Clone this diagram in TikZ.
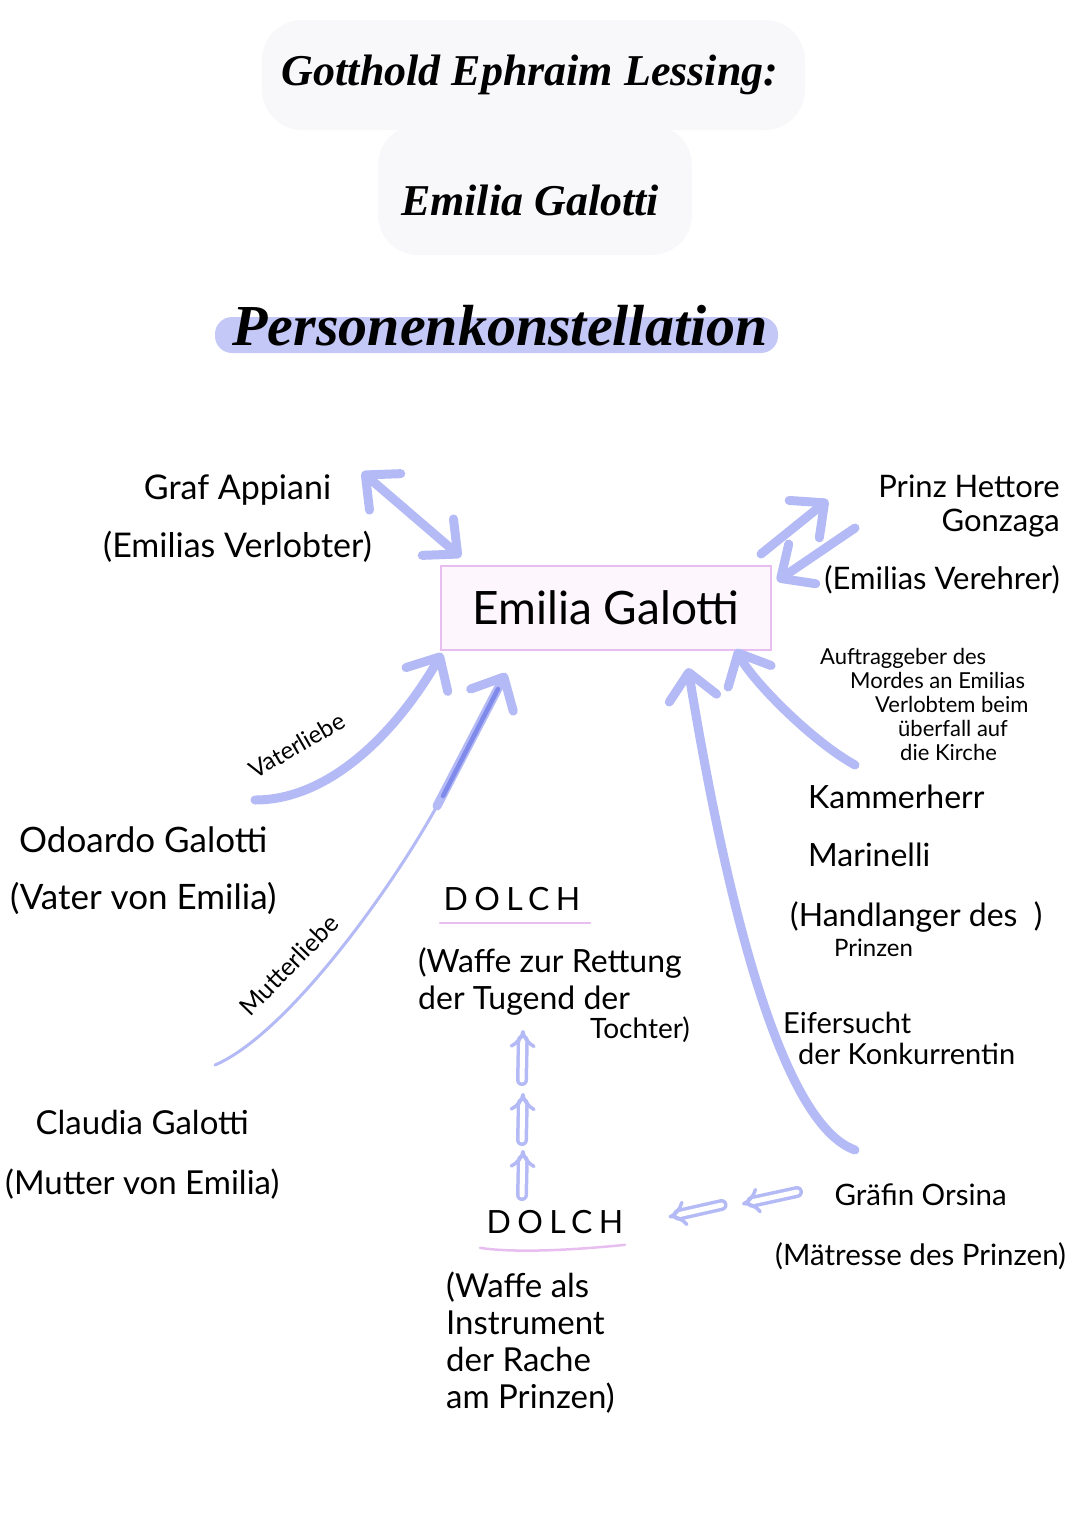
\documentclass[tikz,border=0pt]{standalone}
\usepackage{fontspec}
\setmainfont{Lato}
\newfontfamily\titelfont{Liberation Serif}
\usetikzlibrary{arrows.meta}

\definecolor{lila}{RGB}{180,186,245}
\definecolor{lilakern}{RGB}{128,138,235}
\definecolor{band}{RGB}{196,200,246}
\definecolor{rosa}{RGB}{232,190,240}
\definecolor{rosahell}{RGB}{253,246,253}
\definecolor{nebel}{RGB}{248,248,250}

\begin{document}
\begin{tikzpicture}[
    x=1pt, y=-1pt,
    >={Straight Barb[length=26pt,width=48pt,round]},
    pfeil/.style={draw=lila, line width=9pt, line cap=round, line join=round, ->},
    duenn/.style={draw=lila, line width=3pt, line cap=round},
    kern/.style={draw=lilakern, line width=4.5pt, line cap=round},
    doppel/.style={draw=lila, line width=3.5pt, double=white, double distance=5pt, line cap=round, -{Implies}},
    figur/.style={inner sep=0pt, align=center, font=\fontsize{34}{58}\selectfont},
    notiz/.style={inner sep=0pt, align=left, font=\fontsize{32}{37}\selectfont},
    dolch/.style={inner sep=0pt, font=\fontsize{32}{32}\selectfont\addfontfeature{LetterSpace=20}},
    strich/.style={draw=rosa, line width=2.5pt, line cap=round},
    titel/.style={inner sep=0pt, font=\titelfont\bfseries\itshape\fontsize{44}{50}\selectfont},
  ]
  \useasboundingbox (0,0) rectangle (1080,1527);

  % Titel
  \fill[nebel, rounded corners=40pt] (262,20) rectangle (805,130);
  \fill[nebel, rounded corners=40pt] (378,125) rectangle (692,255);
  \node[titel] (titel1) at (530,75) {Gotthold Ephraim Lessing:};
  \node[titel] (titel2) at (530,200) {Emilia Galotti};
  \fill[band, rounded corners=17pt] (215,317) rectangle (778,353);
  \node[titel, anchor=base, font=\titelfont\bfseries\itshape\fontsize{58}{58}\selectfont] (konst) at (500,345) {Personenkonstellation};

  % Personen
  \node[draw=rosa, fill=rosahell, line width=2pt, minimum width=330pt, minimum height=84pt,
    inner sep=0pt, font=\fontsize{46}{46}\selectfont] (emilia) at (606,608) {Emilia Galotti};
  \node[figur, anchor=north east] (appiani) at (372,474) {Graf Appiani\\(Emilias Verlobter)};
  \node[figur, align=right, anchor=north east, font=\fontsize{31}{34}\selectfont] (prinz) at (1060,475)
    {Prinz Hettore\\Gonzaga\\[24pt](Emilias Verehrer)};
  \node[notiz, anchor=north west, font=\fontsize{22}{24}\selectfont] (auftrag) at (820,648)
    {Auftraggeber des\\\hspace*{30pt}Mordes an Emilias\\\hspace*{55pt}Verlobtem beim\\\hspace*{78pt}überfall auf\\\hspace*{80pt}die Kirche};
  \node[notiz, anchor=north west, font=\fontsize{32}{58}\selectfont] (kammer) at (808,785) {Kammerherr\\Marinelli};
  \node[notiz, anchor=north west, font=\fontsize{32}{30}\selectfont] (handl) at (790,901)
    {(Handlanger des\ \ )\\\hspace*{44pt}{\fontsize{24}{24}\selectfont Prinzen}};
  \node[notiz, anchor=north west, font=\fontsize{29}{31}\selectfont] (eifer) at (783,1012)
    {Eifersucht\\\hspace*{15pt}der Konkurrentin};
  \node[figur, anchor=north west, font=\fontsize{29.5}{60}\selectfont] (orsina) at (775,1184)
    {Gräfin Orsina\\(Mätresse des Prinzen)};
  \node[figur, anchor=north west, font=\fontsize{35}{57}\selectfont] (odoardo) at (10,827)
    {Odoardo Galotti\\(Vater von Emilia)};
  \node[figur, anchor=north west, font=\fontsize{33}{60}\selectfont] (claudia) at (5,1110)
    {Claudia Galotti\\(Mutter von Emilia)};

  % Dolche
  \node[dolch, anchor=north] (dolchA) at (512,887) {DOLCH};
  \node[notiz, anchor=north west] (dolchAtext) at (418,947)
    {(Waffe zur Rettung\\der Tugend der\\[-8pt]\hspace*{172pt}{\fontsize{28}{28}\selectfont Tochter)}};
  \node[dolch, anchor=north] (dolchB) at (555,1210) {DOLCH};
  \node[notiz, anchor=north west, font=\fontsize{33}{37}\selectfont] (dolchBtext) at (446,1272)
    {(Waffe als\\Instrument\\der Rache\\am Prinzen)};
  \draw[strich] ([shift={(-72,12)}]dolchA.south) -- ([shift={(78,12)}]dolchA.south);
  \draw[strich] ([shift={(-75,14)}]dolchB.south) .. controls +(40,6) and +(-40,4) .. ([shift={(70,11)}]dolchB.south);

  % Beziehungen
  \draw[pfeil, <->] ([shift={(-10,-2)}]appiani.north east) -- ([shift={(21,-8)}]emilia.north west);
  \draw[pfeil] ([shift={(-11,-11)}]emilia.north east) -- ([shift={(-232,25)}]prinz.north east);
  \draw[pfeil] ([shift={(-205,53)}]prinz.north east) -- ([shift={(5,16)}]emilia.north east);
  \draw[pfeil] ([shift={(47,-20)}]kammer.north west) .. controls +(-45,-25) and +(15,30) .. ([shift={(-36,-2)}]emilia.south east);
  \draw[pfeil] ([shift={(80,-34)}]orsina.north west) .. controls +(-85,-30) and +(27,163) .. ([shift={(82,17)}]emilia.south);
  \draw[pfeil] ([shift={(245,-27)}]odoardo.north west) .. controls +(80,0) and +(-40,70) .. ([shift={(2,2)}]emilia.south west);
  \node[font=\fontsize{24}{24}\selectfont, rotate=30, inner sep=0pt] (vlabel) at (297,745) {Vaterliebe};

  \coordinate (knick) at ([shift={(-169,155)}]emilia.south);
  \draw[duenn] ([shift={(210,-45)}]claudia.north west) .. controls +(70,-30) and +(-50,90) .. (knick);
  \draw[pfeil] (knick) -- ([shift={(-100,22)}]emilia.south);
  \draw[kern] ([shift={(6,-10)}]knick) -- ([shift={(-108,38)}]emilia.south);
  \node[font=\fontsize{25}{25}\selectfont, rotate=46, inner sep=0pt] (mlabel) at (289,965) {Mutterliebe};

  \foreach \u/\o in {15/60, 70/117, 130/180}
    \draw[doppel] ([shift={(-33,-\u)}]dolchB.north) -- ([shift={(-32,-\o)}]dolchB.north);
  \draw[doppel] ([shift={(22,8)}]orsina.north west) -- ([shift={(-33,20)}]orsina.north west);
  \draw[doppel] ([shift={(98,-5)}]dolchB.north east) -- ([shift={(45,7)}]dolchB.north east);
\end{tikzpicture}
\end{document}
